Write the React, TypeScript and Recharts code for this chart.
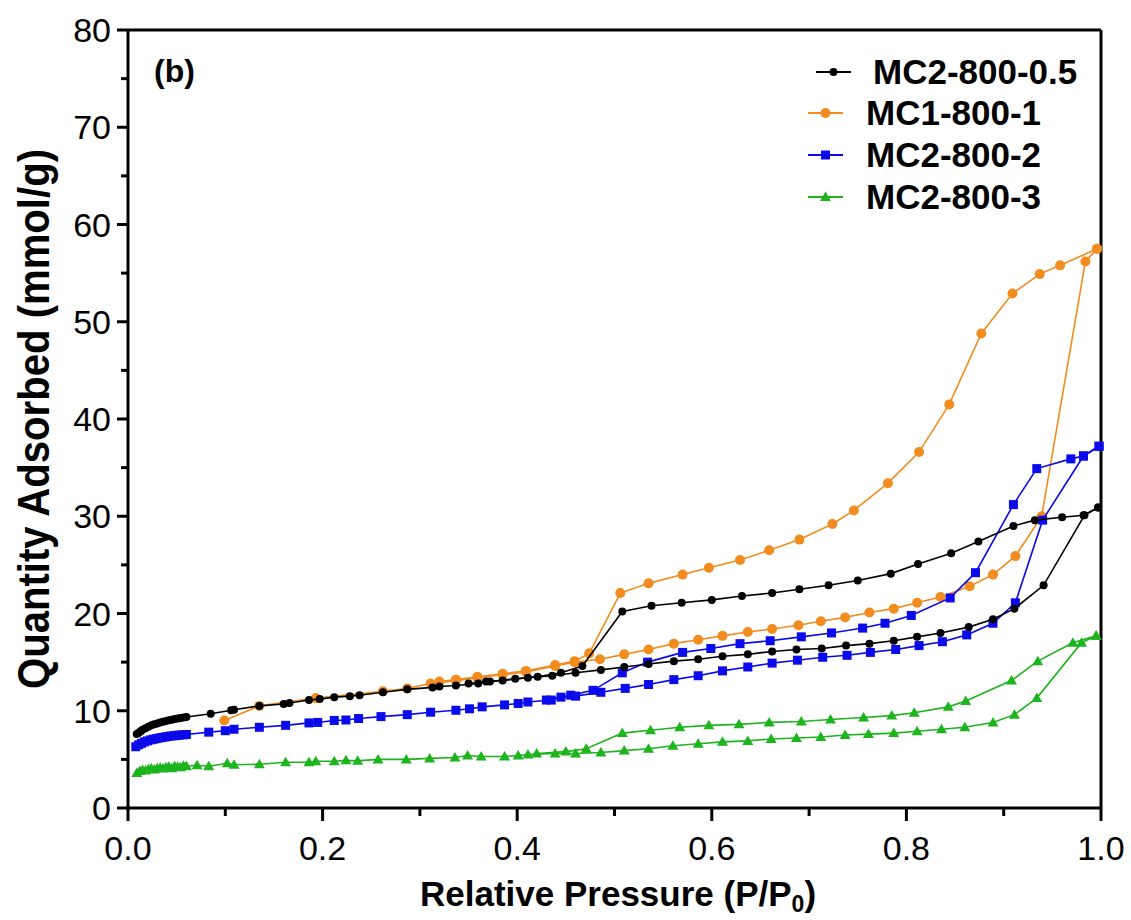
import React from "react";
import { ScatterChart, Scatter, XAxis, YAxis, ReferenceLine, Legend, Label } from "recharts";

const FONT = "'Liberation Sans', Arial, Helvetica, sans-serif";

const xTicks = [0, 0.1, 0.2, 0.3, 0.4, 0.5, 0.6, 0.7, 0.8, 0.9, 1.0];
const yTicks = [0, 5, 10, 15, 20, 25, 30, 35, 40, 45, 50, 55, 60, 65, 70, 75, 80];

type Pt = [number, number];

// MC2-800-0.5
const mc05Ads: Pt[] = [
  [0.009, 7.6], [0.011, 7.75], [0.013, 7.9], [0.015, 8.05], [0.018, 8.2], [0.021, 8.35],
  [0.024, 8.5], [0.027, 8.6], [0.03, 8.7], [0.033, 8.8], [0.036, 8.88], [0.039, 8.95],
  [0.042, 9.02], [0.045, 9.08], [0.048, 9.14], [0.051, 9.2], [0.054, 9.25], [0.057, 9.3],
  [0.06, 9.35], [0.085, 9.7], [0.106, 10.05], [0.109, 10.1], [0.135, 10.5], [0.16, 10.7],
  [0.166, 10.8], [0.186, 11.1], [0.197, 11.2], [0.212, 11.4], [0.228, 11.5], [0.238, 11.6],
  [0.262, 11.9], [0.287, 12.2], [0.313, 12.4], [0.32, 12.5], [0.337, 12.6], [0.36, 12.8],
  [0.368, 13.0], [0.385, 13.1], [0.411, 13.4], [0.436, 13.6], [0.46, 13.9], [0.486, 14.2],
  [0.51, 14.5], [0.535, 14.8], [0.561, 15.1], [0.586, 15.3], [0.611, 15.6], [0.637, 15.8],
  [0.662, 16.1], [0.687, 16.3], [0.713, 16.4], [0.738, 16.7], [0.762, 16.9], [0.787, 17.2],
  [0.811, 17.6], [0.835, 18.0], [0.864, 18.6], [0.889, 19.4], [0.911, 20.5], [0.941, 22.9],
  [0.983, 30.1], [0.997, 30.9],
];
const mc05Des: Pt[] = [
  [0.997, 30.9], [0.982, 30.1], [0.96, 29.9], [0.932, 29.6], [0.91, 29.0], [0.874, 27.4],
  [0.846, 26.2], [0.812, 25.1], [0.784, 24.1], [0.75, 23.4], [0.72, 22.9], [0.69, 22.5],
  [0.662, 22.1], [0.631, 21.8], [0.6, 21.4], [0.569, 21.1], [0.538, 20.8], [0.508, 20.2],
  [0.467, 14.6], [0.445, 13.9], [0.421, 13.5], [0.398, 13.3], [0.372, 13.0], [0.35, 12.8],
];

// MC1-800-1
const mc1Ads: Pt[] = [
  [0.099, 9.0], [0.135, 10.5], [0.193, 11.3], [0.262, 12.0], [0.287, 12.3], [0.311, 12.8],
  [0.337, 13.1], [0.359, 13.4], [0.385, 13.7], [0.409, 14.0], [0.439, 14.6], [0.459, 15.0],
  [0.485, 15.3], [0.51, 15.8], [0.535, 16.3], [0.561, 16.9], [0.586, 17.3], [0.611, 17.7],
  [0.637, 18.1], [0.662, 18.4], [0.689, 18.8], [0.712, 19.2], [0.737, 19.6], [0.762, 20.1],
  [0.787, 20.5], [0.811, 21.1], [0.835, 21.7], [0.865, 22.8], [0.889, 24.0], [0.912, 25.9],
  [0.939, 30.0], [0.984, 56.2], [0.996, 57.5],
];
const mc1Des: Pt[] = [
  [0.996, 57.5], [0.958, 55.8], [0.937, 54.9], [0.909, 52.9], [0.877, 48.8], [0.844, 41.5],
  [0.813, 36.6], [0.781, 33.4], [0.746, 30.6], [0.724, 29.2], [0.69, 27.6], [0.659, 26.5],
  [0.629, 25.5], [0.597, 24.7], [0.57, 24.0], [0.535, 23.1], [0.506, 22.1], [0.474, 15.9],
  [0.459, 15.1], [0.439, 14.7], [0.409, 14.1], [0.385, 13.8], [0.359, 13.5], [0.337, 13.2],
  [0.32, 13.0],
];

// MC2-800-2
const mc2Ads: Pt[] = [
  [0.008, 6.3], [0.011, 6.5], [0.014, 6.65], [0.017, 6.8], [0.02, 6.9], [0.023, 7.0],
  [0.026, 7.07], [0.029, 7.13], [0.032, 7.2], [0.035, 7.25], [0.038, 7.3], [0.041, 7.35],
  [0.044, 7.4], [0.047, 7.43], [0.05, 7.47], [0.053, 7.5], [0.056, 7.52], [0.06, 7.56],
  [0.083, 7.8], [0.1, 7.95], [0.109, 8.1], [0.135, 8.3], [0.162, 8.5], [0.186, 8.75],
  [0.195, 8.8], [0.212, 9.0], [0.224, 9.05], [0.237, 9.2], [0.26, 9.4], [0.287, 9.6],
  [0.311, 9.85], [0.337, 10.05], [0.351, 10.2], [0.364, 10.4], [0.387, 10.6], [0.401, 10.75],
  [0.411, 10.9], [0.435, 11.1], [0.445, 11.4], [0.46, 11.5], [0.486, 11.9], [0.511, 12.3],
  [0.535, 12.7], [0.561, 13.2], [0.586, 13.6], [0.611, 14.1], [0.637, 14.5], [0.662, 14.9],
  [0.688, 15.2], [0.714, 15.5], [0.739, 15.7], [0.763, 16.0], [0.789, 16.3], [0.813, 16.7],
  [0.837, 17.1], [0.862, 17.8], [0.889, 19.0], [0.912, 21.1], [0.94, 29.6], [0.982, 36.2],
  [0.998, 37.2],
];
const mc2Des: Pt[] = [
  [0.998, 37.2], [0.982, 36.2], [0.969, 35.9], [0.934, 34.9], [0.91, 31.2], [0.871, 24.2],
  [0.845, 21.6], [0.805, 19.8], [0.778, 19.0], [0.755, 18.5], [0.723, 18.0], [0.692, 17.6],
  [0.66, 17.2], [0.629, 16.9], [0.599, 16.4], [0.57, 16.0], [0.534, 15.0], [0.508, 13.9],
  [0.478, 12.1], [0.455, 11.6], [0.43, 11.1],
];

// MC2-800-3
const mc3Ads: Pt[] = [
  [0.009, 3.6], [0.012, 3.8], [0.015, 3.9], [0.018, 3.85], [0.021, 4.0], [0.024, 4.05],
  [0.027, 3.95], [0.03, 4.1], [0.033, 4.15], [0.036, 4.05], [0.039, 4.2], [0.042, 4.25],
  [0.045, 4.1], [0.048, 4.3], [0.051, 4.25], [0.054, 4.2], [0.057, 4.35], [0.06, 4.3],
  [0.071, 4.4], [0.083, 4.3], [0.102, 4.6], [0.109, 4.45], [0.135, 4.5], [0.162, 4.7],
  [0.186, 4.7], [0.193, 4.8], [0.212, 4.8], [0.224, 4.9], [0.236, 4.85], [0.257, 5.0],
  [0.286, 5.0], [0.31, 5.1], [0.336, 5.2], [0.349, 5.4], [0.363, 5.3], [0.387, 5.3],
  [0.401, 5.4], [0.411, 5.5], [0.439, 5.6], [0.46, 5.6], [0.486, 5.7], [0.51, 5.9],
  [0.535, 6.1], [0.56, 6.4], [0.586, 6.6], [0.611, 6.8], [0.637, 6.9], [0.661, 7.1],
  [0.687, 7.2], [0.712, 7.3], [0.737, 7.5], [0.761, 7.6], [0.787, 7.7], [0.811, 7.9],
  [0.836, 8.1], [0.86, 8.3], [0.889, 8.8], [0.911, 9.6], [0.934, 11.3], [0.98, 17.0],
  [0.995, 17.7],
];
const mc3Des: Pt[] = [
  [0.995, 17.7], [0.971, 17.0], [0.935, 15.1], [0.908, 13.1], [0.861, 11.0], [0.843, 10.4],
  [0.808, 9.8], [0.785, 9.5], [0.756, 9.3], [0.722, 9.1], [0.692, 8.9], [0.659, 8.8],
  [0.628, 8.6], [0.597, 8.5], [0.567, 8.3], [0.537, 8.0], [0.508, 7.7], [0.471, 6.1],
  [0.45, 5.8], [0.42, 5.6],
];

const legendNames = ["MC2-800-0.5", "MC1-800-1", "MC2-800-2", "MC2-800-3"];
const colors = ["#000000", "#F28C1E", "#0A0AEB", "#1DB41D"];
const markers = ["dot", "circle", "square", "triangle"];

const toPts = (a: Pt[]) => a.map(([x, y]) => ({ x, y }));

function Marker({ kind, cx, cy, color }: { kind: string; cx: number; cy: number; color: string }) {
  if (kind === "dot") return <circle cx={cx} cy={cy} r={4} fill={color} />;
  if (kind === "circle") return <circle cx={cx} cy={cy} r={5} fill={color} />;
  if (kind === "square") return <rect x={cx - 4.5} y={cy - 4.5} width={9} height={9} fill={color} />;
  return <polygon points={`${cx},${cy - 5.5} ${cx + 5.5},${cy + 4} ${cx - 5.5},${cy + 4}`} fill={color} />;
}

function YTick({ x, y, payload }: any) {
  const v = payload.value;
  const major = v % 10 === 0;
  return (
    <g>
      <line x1={x - (major ? 11 : 7)} x2={x} y1={y} y2={y} stroke="#000" strokeWidth={3} />
      {major && (
        <text x={x - 17} y={y} dy={12} textAnchor="end" fontSize={34} fontFamily={FONT} fill="#000">
          {v}
        </text>
      )}
    </g>
  );
}

function XTick({ x, y, payload }: any) {
  const v = payload.value;
  const major = Math.round(v * 10) % 2 === 0;
  return (
    <g>
      <line x1={x} x2={x} y1={y} y2={y + (major ? 13 : 8)} stroke="#000" strokeWidth={3} />
      {major && (
        <text x={x} y={y + 52} textAnchor="middle" fontSize={34} fontFamily={FONT} fill="#000">
          {v.toFixed(1)}
        </text>
      )}
    </g>
  );
}

function LegendBox() {
  const rows = [72, 113, 155, 197];
  return (
    <svg width={1131} height={230} style={{ display: "block" }}>
      <text x={154} y={82} fontSize={32} fontWeight="bold" fontFamily={FONT} fill="#000">
        (b)
      </text>
      {legendNames.map((n, i) => {
        const x1 = i === 0 ? 816 : 808;
        const x2 = x1 + 35;
        const tx = i === 0 ? 873 : 866;
        return (
          <g key={n}>
            <line x1={x1} x2={x2} y1={rows[i]} y2={rows[i]} stroke={colors[i]} strokeWidth={2} />
            <Marker kind={markers[i]} cx={(x1 + x2) / 2} cy={rows[i]} color={colors[i]} />
            <text x={tx} y={rows[i] + 12} fontSize={35} fontWeight="bold" fontFamily={FONT} fill="#000">
              {n}
            </text>
          </g>
        );
      })}
    </svg>
  );
}

const seriesList = [
  { data: mc3Ads, i: 3 },
  { data: mc3Des, i: 3 },
  { data: mc1Ads, i: 1 },
  { data: mc1Des, i: 1 },
  { data: mc2Ads, i: 2 },
  { data: mc2Des, i: 2 },
  { data: mc05Ads, i: 0 },
  { data: mc05Des, i: 0 },
];

export default function App() {
  return (
    <div style={{ position: "absolute", left: 0, top: 0, width: 1131, height: 920, background: "#fff" }}>
      <ScatterChart width={1131} height={920} margin={{ top: 30, right: 30, bottom: 0, left: 0 }}>
        <XAxis
          dataKey="x"
          type="number"
          domain={[0, 1]}
          ticks={xTicks}
          interval={0}
          height={112}
          tickSize={0}
          tickMargin={0}
          tickLine={false}
          tick={<XTick />}
          axisLine={{ stroke: "#000", strokeWidth: 3 }}
        >
          <Label
            content={() => (
              <text x={420} y={906} fontSize={35} fontWeight="bold" fontFamily={FONT} fill="#000">
                Relative Pressure (P/P
                <tspan fontSize={23} dy={6}>0</tspan>
                <tspan fontSize={35} dy={-6}>)</tspan>
              </text>
            )}
          />
        </XAxis>
        <YAxis
          dataKey="y"
          type="number"
          domain={[0, 80]}
          ticks={yTicks}
          interval={0}
          width={128}
          tickSize={0}
          tickMargin={0}
          tickLine={false}
          tick={<YTick />}
          axisLine={{ stroke: "#000", strokeWidth: 3 }}
        >
          <Label
            content={() => (
              <text
                transform="translate(49,689) rotate(-90)"
                x={0}
                y={0}
                fontSize={45}
                fontWeight="bold"
                fontFamily={FONT}
                fill="#000"
                textLength={540}
                lengthAdjust="spacingAndGlyphs"
              >
                Quantity Adsorbed (mmol/g)
              </text>
            )}
          />
        </YAxis>
        <ReferenceLine y={80} stroke="#000" strokeWidth={3} />
        <ReferenceLine x={1} stroke="#000" strokeWidth={3} />
        {seriesList.map((s, k) => (
          <Scatter
            key={k}
            data={toPts(s.data)}
            fill={colors[s.i]}
            line={{ stroke: colors[s.i], strokeWidth: 1.6 }}
            lineType="joint"
            legendType="none"
            isAnimationActive={false}
            shape={(p: any) => <Marker kind={markers[s.i]} cx={p.cx} cy={p.cy} color={colors[s.i]} />}
          />
        ))}
        <Legend
          layout="vertical"
          align="center"
          verticalAlign="middle"
          wrapperStyle={{ position: "absolute", left: 0, top: 0, width: 1131, height: 230, pointerEvents: "none" }}
          content={() => <LegendBox />}
        />
      </ScatterChart>
    </div>
  );
}
